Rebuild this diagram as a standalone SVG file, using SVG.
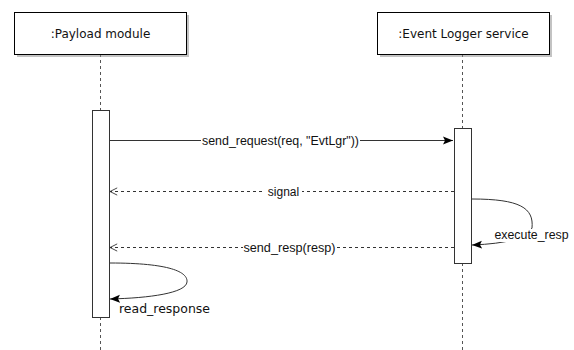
<svg xmlns="http://www.w3.org/2000/svg" width="574" height="350" viewBox="0 0 574 350">
<style>
.box{fill:#fff;stroke:#000;stroke-width:1}
.shadow{fill:#888;opacity:0.5}
.life{stroke:#555;stroke-width:1;stroke-dasharray:3 3;fill:none}
.act{fill:#fff;stroke:#333;stroke-width:1}
.msg{stroke:#333;stroke-width:1;fill:none}
.ret{stroke:#333;stroke-width:1;fill:none;stroke-dasharray:3 3}
.title{font-family:"DejaVu Sans",Verdana,sans-serif;font-size:12px;fill:#111;text-anchor:middle}
.lbl{font-family:"Liberation Sans",Arial,sans-serif;font-size:12px;fill:#111;text-anchor:middle}
.lbl2{font-family:"DejaVu Sans",Verdana,sans-serif;font-size:12px;fill:#111}
.bg{fill:#fff}
</style>
<defs>
<marker id="filled" viewBox="0 0 10 10" refX="10" refY="5" markerWidth="10" markerHeight="10" markerUnits="userSpaceOnUse" orient="auto">
<path d="M0,1 L10,5 L0,9 L2,5 Z" fill="#000"/>
</marker>
<marker id="open" viewBox="0 0 10 10" refX="9" refY="5" markerWidth="9" markerHeight="9" markerUnits="userSpaceOnUse" orient="auto">
<path d="M1,1 L9,5 L1,9" fill="none" stroke="#333" stroke-width="1"/>
</marker>
</defs>
<rect width="574" height="350" fill="#fff"/>
<g id="lifelines">
<line class="life" x1="100.5" y1="54" x2="100.5" y2="110"/>
<line class="life" x1="100.5" y1="317" x2="100.5" y2="350"/>
<line class="life" x1="462.5" y1="54" x2="462.5" y2="128"/>
<line class="life" x1="462.5" y1="263" x2="462.5" y2="350"/>
</g>
<g id="payload">
<rect class="shadow" x="17" y="15" width="172" height="42"/>
<rect class="box" x="14.5" y="12.5" width="172" height="42"/>
<text class="title" x="100.5" y="38">:Payload module</text>
</g>
<g id="logger">
<rect class="shadow" x="380" y="15" width="172" height="42"/>
<rect class="box" x="377.5" y="12.5" width="172" height="42"/>
<text class="title" x="463.5" y="38">:Event Logger service</text>
</g>
<g id="payload-activation">
<rect class="act" x="92.5" y="110.5" width="17" height="207"/>
</g>
<g id="logger-activation">
<rect class="act" x="454.5" y="128.5" width="17" height="135"/>
</g>
<g id="connectors">
<line class="msg" x1="110" y1="140.5" x2="453" y2="140.5" marker-end="url(#filled)"/>
<rect class="bg" x="201" y="133" width="159" height="14"/>
<text class="lbl" x="280.5" y="145" textLength="157" lengthAdjust="spacingAndGlyphs">send_request(req, "EvtLgr"))</text>
<line class="ret" x1="454" y1="191.5" x2="110" y2="191.5" marker-end="url(#open)"/>
<rect class="bg" x="265" y="185" width="37" height="13"/>
<text class="lbl" x="283.5" y="196">signal</text>
<line class="ret" x1="454" y1="247.5" x2="110" y2="247.5" marker-end="url(#open)"/>
<rect class="bg" x="243" y="241" width="93" height="13"/>
<text class="lbl" x="289.5" y="252" textLength="92" lengthAdjust="spacingAndGlyphs">send_resp(resp)</text>
<path class="msg" d="M472,199 C520,199 534,208 532,228 Q525,243 472,245" marker-end="url(#filled)"/>
<rect class="bg" x="494" y="229" width="75" height="13"/>
<text class="lbl" x="531.5" y="239" textLength="74" lengthAdjust="spacingAndGlyphs">execute_resp</text>
<path class="msg" d="M110,263 C170,263 188,272 187,282 C186,293 150,298 110,299" marker-end="url(#filled)"/>
<text class="lbl2" x="119" y="313" textLength="91" lengthAdjust="spacingAndGlyphs">read_response</text>
</g>
</svg>
